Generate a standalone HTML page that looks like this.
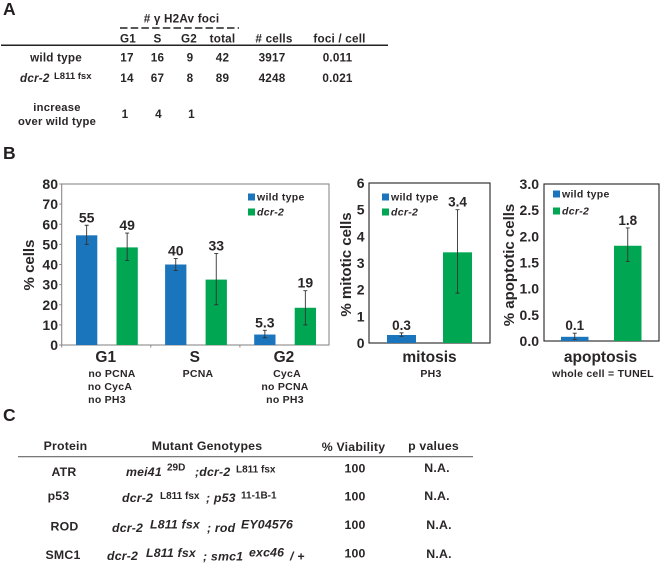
<!DOCTYPE html>
<html>
<head>
<meta charset="utf-8">
<style>
html,body{margin:0;padding:0;background:#fff;width:661px;height:563px;overflow:hidden}
svg{display:block;filter:blur(0.3px)}
text{font-family:"Liberation Sans",sans-serif;font-weight:bold;fill:#2a2627}
.m{text-anchor:middle}
.i{font-style:italic}
.t{font-size:10.5px;letter-spacing:.25px}
.a{font-size:11.7px;letter-spacing:.2px}
.b{font-size:11.2px;letter-spacing:.25px}
.h{font-size:12.3px;letter-spacing:.2px}
.s{font-size:9.5px;font-weight:bold}
.panel{font-size:17.5px;fill:#231f20}
</style>
</head>
<body>
<svg id="fig" xmlns="http://www.w3.org/2000/svg" width="661" height="563" viewBox="0 0 661 563">
<rect width="661" height="563" fill="#fff"/>

<g>
<text class="panel" x="3" y="15">A</text>
<text class="a m" x="181.5" y="22.5"># γ H2Av foci</text>
<line x1="120" y1="28" x2="239" y2="28" stroke="#222" stroke-width="1.6" stroke-dasharray="7.5 3.2"/>
<text class="a m" x="128" y="42.5">G1</text>
<text class="a m" x="157.5" y="42.5">S</text>
<text class="a m" x="189" y="42.5">G2</text>
<text class="a m" x="222.5" y="42.5">total</text>
<text class="a m" x="274" y="42.5"># cells</text>
<text class="a m" x="339.5" y="42.5">foci / cell</text>
<line x1="1" y1="45.2" x2="388" y2="45.2" stroke="#222" stroke-width="1.5"/>
<text class="a m" x="56" y="61.5">wild type</text>
<text class="a m" x="127" y="61.5">17</text>
<text class="a m" x="157.5" y="61.5">16</text>
<text class="a m" x="190" y="61.5">9</text>
<text class="a m" x="222.5" y="61.5">42</text>
<text class="a m" x="272" y="61.5">3917</text>
<text class="a m" x="337.5" y="61.5">0.011</text>
<text y="82"><tspan class="a i" x="20">dcr-2</tspan><tspan class="s" x="54" dy="-3">L811 fsx</tspan></text>
<text class="a m" x="127" y="82">14</text>
<text class="a m" x="157.5" y="82">67</text>
<text class="a m" x="190" y="82">8</text>
<text class="a m" x="222.5" y="82">89</text>
<text class="a m" x="272" y="82">4248</text>
<text class="a m" x="337.5" y="82">0.021</text>
<text class="b m" x="57" y="111">increase</text>
<text class="b m" x="57" y="125">over wild type</text>
<text class="a m" x="125" y="118">1</text>
<text class="a m" x="158.5" y="118">4</text>
<text class="a m" x="191.5" y="118">1</text>
</g>

<text class="panel" x="3" y="159">B</text>
<g id="charts"></g>

<g>
<text class="t m" x="112" y="377">no PCNA</text>
<text class="t m" x="110" y="390">no CycA</text>
<text class="t m" x="107" y="403">no PH3</text>
<text class="t m" x="198" y="377">PCNA</text>
<text class="t m" x="287" y="377">CycA</text>
<text class="t m" x="285" y="390">no PCNA</text>
<text class="t m" x="285" y="403">no PH3</text>
<text class="t m" x="431" y="377">PH3</text>
<text class="t m" x="603" y="377">whole cell = TUNEL</text>
</g>

<g>
<text class="panel" x="3" y="421">C</text>
<text class="h m" x="65.5" y="450">Protein</text>
<text class="h m" x="207" y="450">Mutant Genotypes</text>
<text class="h m" x="353.5" y="451">% Viability</text>
<text class="h m" x="433.5" y="450">p values</text>
<line x1="18" y1="456.7" x2="473" y2="456.7" stroke="#666" stroke-width="1.2"/>
<text class="h m" x="64" y="476">ATR</text>
<text class="h m" x="58.5" y="500">p53</text>
<text class="h m" x="64.5" y="530.5">ROD</text>
<text class="h m" x="63" y="559">SMC1</text>
<text y="476"><tspan class="h i" x="126">mei41</tspan><tspan class="s" x="167" dy="-5.5" style="font-size:10px">29D</tspan><tspan class="h i" x="195" dy="5.5">;dcr-2</tspan><tspan class="s" x="236" dy="-3.5" style="font-size:10px">L811 fsx</tspan></text>
<text y="502"><tspan class="h i" x="122">dcr-2</tspan><tspan class="s" x="160" dy="-3" style="font-size:10px">L811 fsx</tspan><tspan class="h i" x="206" dy="3">; p53</tspan><tspan class="s" x="241" dy="-3.5" style="font-size:10px">11-1B-1</tspan></text>
<text y="532"><tspan class="h i" x="112">dcr-2</tspan><tspan class="h i" x="150" dy="-3.5">L811 fsx</tspan><tspan class="h i" x="207" dy="3.5">; rod</tspan><tspan class="h i" x="241" dy="-3.5">EY04576</tspan></text>
<text y="560"><tspan class="h i" x="107">dcr-2</tspan><tspan class="h i" x="146" dy="-3">L811 fsx</tspan><tspan class="h i" x="203" dy="3.5">; smc1</tspan><tspan class="h i" x="249" dy="-4">exc46</tspan><tspan class="h i" x="290" dy="4">/ +</tspan></text>
<text class="h m" x="355" y="472.5">100</text>
<text class="h m" x="355" y="500.5">100</text>
<text class="h m" x="355" y="529">100</text>
<text class="h m" x="355" y="557.5">100</text>
<text class="h m" x="437" y="472">N.A.</text>
<text class="h m" x="437" y="500">N.A.</text>
<text class="h m" x="439" y="529">N.A.</text>
<text class="h m" x="439" y="558">N.A.</text>
</g>
</svg>

<script>
// Cell-cycle chart data
var cycleCategories = ['G1', 'S', 'G2'];
var cycleWildType = [54.5, 40, 5.2];
var cycleDcr2 = [48.5, 32.5, 18.5];
var cycleWildTypeHigh = [59.5, 43, 7.3];
var cycleWildTypeLow = [50, 37, 3.6];
var cycleDcr2High = [55.6, 45.5, 27];
var cycleDcr2Low = [42, 20, 10];
var cycleWildTypeLabels = ['55', '40', '5.3'];
var cycleDcr2Labels = ['49', '33', '19'];
var cycleTicks = ['0', '10', '20', '30', '40', '50', '60', '70', '80'];

// Mitosis chart data
var mitosisCategories = ['mitosis'];
var mitosisWildType = [0.3];
var mitosisDcr2 = [3.4];
var mitosisWildTypeHigh = [0.38];
var mitosisWildTypeLow = [0.25];
var mitosisDcr2High = [5.0];
var mitosisDcr2Low = [1.87];
var mitosisWildTypeLabels = ['0.3'];
var mitosisDcr2Labels = ['3.4'];
var mitosisTicks = ['0', '1', '2', '3', '4', '5', '6'];

// Apoptosis chart data
var apoptosisCategories = ['apoptosis'];
var apoptosisWildType = [0.08];
var apoptosisDcr2 = [1.82];
var apoptosisWildTypeHigh = [0.15];
var apoptosisWildTypeLow = [0.03];
var apoptosisDcr2High = [2.16];
var apoptosisDcr2Low = [1.52];
var apoptosisWildTypeLabels = ['0.1'];
var apoptosisDcr2Labels = ['1.8'];
var apoptosisTicks = ['0.0', '0.5', '1.0', '1.5', '2.0', '2.5', '3.0'];

var NS = 'http://www.w3.org/2000/svg';
var BLUE = '#1b75bc', GREEN = '#00a651';

function mk(parent, tag, attrs, txt) {
  var e = document.createElementNS(NS, tag);
  for (var k in attrs) e.setAttribute(k, attrs[k]);
  if (txt !== undefined) e.textContent = txt;
  parent.appendChild(e);
  return e;
}

function drawChart(c) {
  var root = document.getElementById('charts');
  var g = mk(root, 'g', {});
  
  

  var maxV = parseFloat(c.ticks[c.ticks.length - 1]);
  function y(v) { return c.bottom - (v / maxV) * (c.bottom - c.top); }
  var catW = (c.right - c.left) / c.categories.length;
  function catX(i) { return c.left + i * catW; }

  var frame = mk(g, 'rect', {x: c.left, y: c.top, width: c.right - c.left, height: c.bottom - c.top, fill: '#fff', stroke: c.frame, 'stroke-width': 1.1});
  
  

  c.ticks.forEach(function (t) {
    var v = parseFloat(t);
    if (c.tickLen > 0) {
      var mark = mk(g, 'line', {x1: c.left - c.tickLen, x2: c.left, y1: y(v), y2: y(v), stroke: c.frame, 'stroke-width': 1});
      
      
    }
    var lab = mk(g, 'text', {x: c.left - c.labelGap, y: y(v) + c.tickFont * 0.36, 'text-anchor': 'end', 'font-size': c.tickFont}, t);
    
    
  });

  c.categories.forEach(function (name, i) {
    if (c.categories.length > 1) {
      var sep = mk(g, 'line', {x1: catX(i), x2: catX(i), y1: c.bottom, y2: c.bottom + 2.5, stroke: c.frame, 'stroke-width': 1});
      
      
    }
    var series = [
      {v: c.wt[i], hi: c.wtHi[i], lo: c.wtLo[i], lab: c.wtLabels[i], col: BLUE, off: c.off1, n: 'wild-type'},
      {v: c.dcr[i], hi: c.dcrHi[i], lo: c.dcrLo[i], lab: c.dcrLabels[i], col: GREEN, off: c.off2, n: 'dcr-2'}
    ];
    series.forEach(function (s) {
      var bx = catX(i) + s.off, cx = bx + c.barW / 2;
      var bar = mk(g, 'rect', {x: bx, y: y(s.v), width: c.barW, height: c.bottom - y(s.v), fill: s.col});
      
      
      var err = mk(g, 'path', {d: 'M' + cx + ' ' + y(s.hi) + 'V' + y(s.lo) + 'M' + (cx - 2) + ' ' + y(s.hi) + 'h4M' + (cx - 2) + ' ' + y(s.lo) + 'h4', stroke: '#333', 'stroke-width': 0.9, fill: 'none'});
      
      
      var lab = mk(g, 'text', {x: cx, y: y(s.hi) - 3, 'text-anchor': 'middle', 'font-size': c.valFont}, s.lab);
      
      
    });
    var cl = mk(g, 'text', {x: catX(i) + catW / 2 + c.catShift, y: c.catY, 'text-anchor': 'middle', 'font-size': c.catFont}, name);
    
    
  });

  var yt = mk(g, 'text', {transform: 'translate(' + c.titleX + ' ' + c.titleY + ') rotate(-90)', 'text-anchor': 'middle', 'font-size': c.titleFont}, c.title);
  
  

  [[c.leg1Y, BLUE, 'wild type', ''], [c.leg2Y, GREEN, 'dcr-2', 'italic']].forEach(function (l) {
    var sw = mk(g, 'rect', {x: c.legX, y: l[0] - 3.5, width: 7, height: 7, fill: l[1]});
    
    
    var tx = mk(g, 'text', {x: c.legX + 9, y: l[0] + 3.7, 'font-size': 10.5, 'letter-spacing': 0.3, 'font-style': l[3] || 'normal'}, l[2]);
    
    
  });
}

drawChart({name: 'cell-cycle-chart', left: 61.7, right: 329, top: 184, bottom: 345, frame: '#8a8a8a',
  categories: cycleCategories, wt: cycleWildType, dcr: cycleDcr2, wtHi: cycleWildTypeHigh, wtLo: cycleWildTypeLow,
  dcrHi: cycleDcr2High, dcrLo: cycleDcr2Low, wtLabels: cycleWildTypeLabels, dcrLabels: cycleDcr2Labels, ticks: cycleTicks,
  barW: 21.3, off1: 14.3, off2: 54.8, tickFont: 14, valFont: 14, catFont: 15.5, catY: 362, catShift: -0.5, tickLen: 2.5, labelGap: 3.7,
  title: '% cells', titleX: 34, titleY: 265, titleFont: 15, legX: 248, leg1Y: 197, leg2Y: 212});

drawChart({name: 'mitosis-chart', left: 369, right: 490, top: 183, bottom: 343, frame: '#222',
  categories: mitosisCategories, wt: mitosisWildType, dcr: mitosisDcr2, wtHi: mitosisWildTypeHigh, wtLo: mitosisWildTypeLow,
  dcrHi: mitosisDcr2High, dcrLo: mitosisDcr2Low, wtLabels: mitosisWildTypeLabels, dcrLabels: mitosisDcr2Labels, ticks: mitosisTicks,
  barW: 29, off1: 18, off2: 74, tickFont: 14, valFont: 13.5, catFont: 15.5, catY: 362, catShift: 0, tickLen: 0, labelGap: 4.5,
  title: '% mitotic cells', titleX: 351, titleY: 264.5, titleFont: 15, legX: 382, leg1Y: 197, leg2Y: 212});

drawChart({name: 'apoptosis-chart', left: 544, right: 659, top: 184, bottom: 341, frame: '#222',
  categories: apoptosisCategories, wt: apoptosisWildType, dcr: apoptosisDcr2, wtHi: apoptosisWildTypeHigh, wtLo: apoptosisWildTypeLow,
  dcrHi: apoptosisDcr2High, dcrLo: apoptosisDcr2Low, wtLabels: apoptosisWildTypeLabels, dcrLabels: apoptosisDcr2Labels, ticks: apoptosisTicks,
  barW: 27.5, off1: 17, off2: 70, tickFont: 14, valFont: 13.5, catFont: 15.5, catY: 362, catShift: -1, tickLen: 0, labelGap: 5,
  title: '% apoptotic cells', titleX: 514, titleY: 265, titleFont: 15, legX: 553, leg1Y: 194, leg2Y: 211});
</script>
</body>
</html>
